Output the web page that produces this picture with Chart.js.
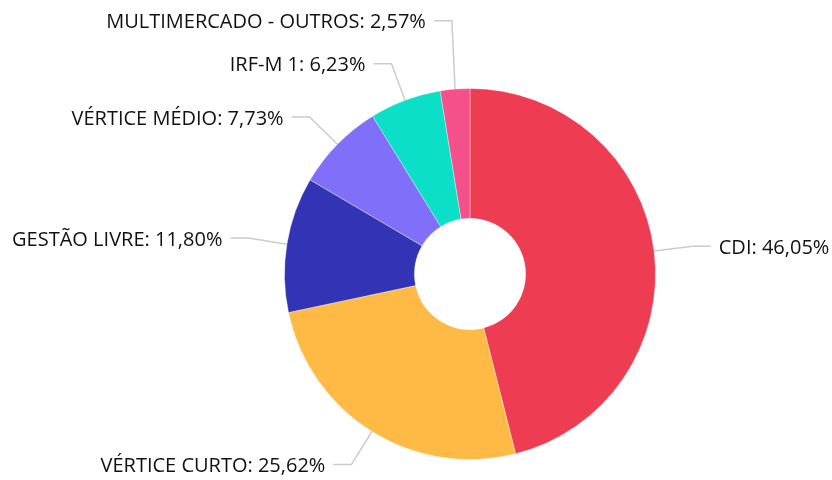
<!DOCTYPE html>
<html lang="pt-BR">
<head>
  <meta charset="UTF-8">
  <title>Alocação por estratégia</title>
  <script src="https://cdn.jsdelivr.net/npm/chart.js"></script>
  <style>
    body { margin: 0; background: #fff; }
    #wrap { width: 832px; height: 480px; }
  </style>
</head>
<body>
  <div id="wrap"><canvas id="chart" width="832" height="480"></canvas></div>

  <script>
    const categories = ['CDI', 'VÉRTICE CURTO', 'GESTÃO LIVRE', 'VÉRTICE MÉDIO', 'IRF-M 1', 'MULTIMERCADO - OUTROS'];
    const shares = [46.05, 25.62, 11.80, 7.73, 6.23, 2.57];
    const sliceColors = ['#ee3c52', '#ffba45', '#3333b5', '#7f6ff9', '#0bdfc8', '#f6508b'];

    const fmt = v => v.toFixed(2).replace('.', ',') + '%';

    // rotulos externos com linhas de chamada
    const outsideLabels = {
      id: 'outsideLabels',
      afterDraw(chart) {
        const ctx = chart.ctx;
        const arcs = chart.getDatasetMeta(0).data;
        const items = arcs.map((arc, i) => {
          const p = arc.getProps(['x', 'y', 'startAngle', 'endAngle', 'outerRadius'], true);
          const mid = (p.startAngle + p.endAngle) / 2;
          const c = Math.cos(mid), s = Math.sin(mid);
          const r2 = p.outerRadius + 39;
          return {
            i, right: c >= 0,
            ex: p.x + c * p.outerRadius, ey: p.y + s * p.outerRadius,
            bx: p.x + c * r2, by: p.y + s * r2
          };
        });

        // evita sobreposicao: empurra para cima, de baixo para o topo
        const gap = 43;
        [true, false].forEach(side => {
          const list = items.filter(o => o.right === side).sort((a, b) => b.by - a.by);
          for (let k = 1; k < list.length; k++) {
            if (list[k].by > list[k - 1].by - gap) list[k].by = list[k - 1].by - gap;
          }
        });

        ctx.save();
        ctx.font = '20px "Open Sans"';
        ctx.textBaseline = 'middle';
        items.forEach(o => {
          const dir = o.right ? 1 : -1;
          const hx = o.bx + dir * 18;
          ctx.strokeStyle = '#cccccc';
          ctx.lineWidth = 1.5;
          ctx.beginPath();
          ctx.moveTo(o.ex, o.ey);
          ctx.lineTo(o.bx, o.by);
          ctx.lineTo(hx, o.by);
          ctx.stroke();
          ctx.fillStyle = '#111111';
          ctx.textAlign = o.right ? 'left' : 'right';
          ctx.fillText(categories[o.i] + ': ' + fmt(shares[o.i]), hx + dir * 8, o.by + 2);
        });
        ctx.restore();
      }
    };

    new Chart(document.getElementById('chart'), {
      type: 'doughnut',
      data: {
        labels: categories,
        datasets: [{
          data: shares,
          backgroundColor: sliceColors,
          borderColor: 'rgba(255,255,255,0.35)',
          borderWidth: 1
        }]
      },
      options: {
        responsive: false,
        animation: false,
        cutout: '30%',
        layout: { padding: { left: 284, right: 176, top: 88, bottom: 20 } },
        plugins: {
          legend: { display: false },
          tooltip: { enabled: false }
        }
      },
      plugins: [outsideLabels]
    });
  </script>
</body>
</html>
